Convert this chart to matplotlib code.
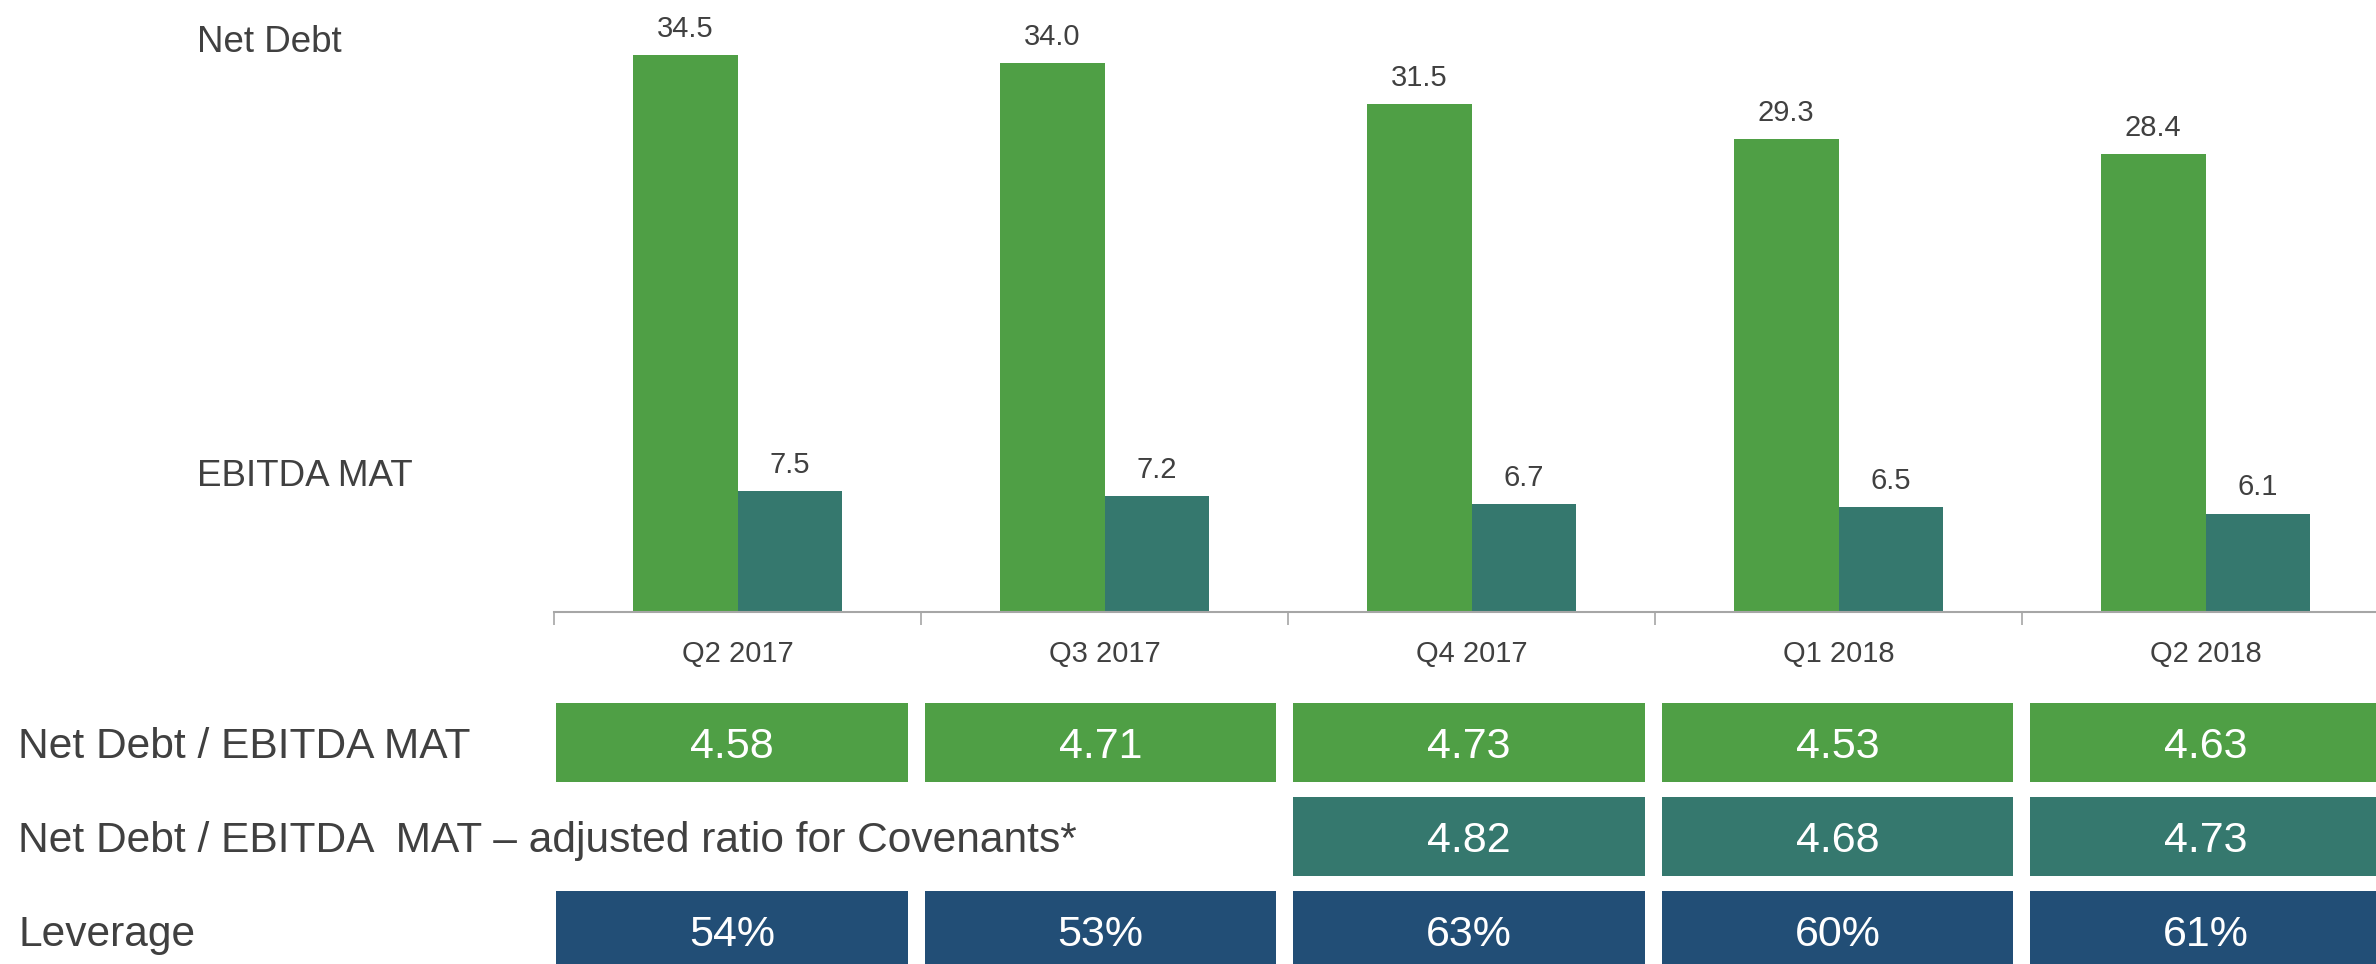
import matplotlib
matplotlib.use("Agg")
import matplotlib.pyplot as plt
from matplotlib.patches import Rectangle
from matplotlib.transforms import blended_transform_factory
import numpy as np

plt.rcParams["font.family"] = ["Liberation Sans", "DejaVu Sans"]

quarters = ["Q2 2017", "Q3 2017", "Q4 2017", "Q1 2018", "Q2 2018"]
net_debt = [34.5, 34.0, 31.5, 29.3, 28.4]
ebitda_mat = [7.5, 7.2, 6.7, 6.5, 6.1]

row_labels = [
    "Net Debt / EBITDA MAT",
    "Net Debt / EBITDA  MAT \u2013 adjusted ratio for Covenants*",
    "Leverage",
]
ratio = [4.58, 4.71, 4.73, 4.53, 4.63]
ratio_covenants = [None, None, 4.82, 4.68, 4.73]
leverage = [54, 53, 63, 60, 61]

GREEN = "#4f9f45"
TEAL = "#35786e"
NAVY = "#224e76"
TEXT = "#404040"

W, H = 2376, 964
fig = plt.figure(figsize=(W / 100, H / 100), dpi=100)

# bar chart part
ax = fig.add_axes([554 / W, 1 - 612 / H, 5 * 367 / W, 612 / H])
x = np.arange(len(quarters))
bw = 0.286
ax.bar(x - bw / 2, net_debt, bw, color=GREEN)
ax.bar(x + bw / 2, ebitda_mat, bw, color=TEAL)
for xi, v in zip(x, net_debt):
    ax.annotate(f"{v:.1f}", (xi - bw / 2, v), xytext=(0, 13), textcoords="offset points",
                ha="center", va="baseline", fontsize=21, color=TEXT)
for xi, v in zip(x, ebitda_mat):
    ax.annotate(f"{v:.1f}", (xi + bw / 2, v), xytext=(0, 13), textcoords="offset points",
                ha="center", va="baseline", fontsize=21, color=TEXT)

ax.set_xlim(-0.5, len(quarters) - 0.5)
ax.set_ylim(0, 612 / 16.14)
for s in ["left", "right", "top"]:
    ax.spines[s].set_visible(False)
ax.spines["bottom"].set_color("#a6a6a6")
ax.spines["bottom"].set_linewidth(1.5)
ax.set_yticks([])
ax.set_xticks(x)
ax.set_xticklabels(quarters, fontsize=21, color=TEXT)
ax.tick_params(axis="x", which="major", length=0, pad=20)
ax.set_xticks(np.arange(len(quarters)) - 0.5, minor=True)
ax.tick_params(axis="x", which="minor", length=9, color="#a6a6a6", width=1.2)

fig.text(197 / W, 1 - 42 / H, "Net Debt", fontsize=26.5, color=TEXT, va="center", ha="left")
fig.text(197 / W, 1 - 477 / H, "EBITDA MAT", fontsize=26.5, color=TEXT, va="center", ha="left")

# table part (cells have a slightly wider pitch than the bar categories)
pitch = 368.6
ax2 = fig.add_axes([556 / W, 1 - 985 / H, 5 * pitch / W, 282 / H])
ax2.set_xlim(0, len(quarters))
ax2.set_ylim(3, 0)
ax2.axis("off")

rows = [
    (ratio, GREEN, lambda v: f"{v:.2f}"),
    (ratio_covenants, TEAL, lambda v: f"{v:.2f}"),
    (leverage, NAVY, lambda v: f"{v}%"),
]
rh = 0.84
cw = 0.954
trans = blended_transform_factory(fig.transFigure, ax2.transData)
for k, (vals, col, fmt) in enumerate(rows):
    ax2.text(18 / W, k + rh / 2, row_labels[k], transform=trans, fontsize=30.6,
             color=TEXT, ha="left", va="center_baseline")
    for i, v in enumerate(vals):
        if v is None:
            continue
        ax2.add_patch(Rectangle((i, k), cw, rh, facecolor=col, edgecolor="none", clip_on=False))
        ax2.text(i + cw / 2, k + rh / 2, fmt(v), fontsize=31, color="white",
                 ha="center", va="center_baseline", clip_on=False)

fig.savefig("out.png", dpi=100)
